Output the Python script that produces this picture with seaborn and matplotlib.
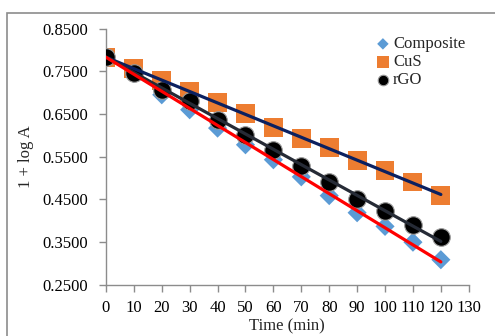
import numpy as np
import pandas as pd
import matplotlib
matplotlib.use("Agg")
import matplotlib.pyplot as plt
import matplotlib.patches as patches
import seaborn as sns

# values
time_min = [0, 10, 20, 30, 40, 50, 60, 70, 80, 90, 100, 110, 120]
composite = [0.783, 0.745, 0.695, 0.660, 0.617, 0.578, 0.543, 0.503, 0.459, 0.419, 0.387, 0.350, 0.309]
cus = [0.783, 0.756, 0.729, 0.702, 0.677, 0.651, 0.619, 0.592, 0.571, 0.541, 0.517, 0.491, 0.460]
rgo = [0.783, 0.745, 0.706, 0.681, 0.636, 0.601, 0.566, 0.529, 0.490, 0.452, 0.424, 0.391, 0.362]

y_ticks = [0.25, 0.35, 0.45, 0.55, 0.65, 0.75, 0.85]
x_ticks = list(range(0, 140, 10))

df = pd.DataFrame({"Time": time_min, "Composite": composite, "CuS": cus, "rGO": rgo})


def trend(col):
    # linear trendline anchored at the first measurement
    x = df["Time"].to_numpy(float)
    y = df[col].to_numpy(float)
    slope = np.sum(x * (y - y[0])) / np.sum(x * x)
    return y[0] + slope * x


for col in ["Composite", "CuS", "rGO"]:
    df[col + "_fit"] = trend(col)

sns.set_style("white")
plt.rcParams["font.family"] = ["Liberation Serif", "DejaVu Serif"]

fig = plt.figure(figsize=(4.95, 3.36), dpi=100)
ax = fig.add_axes([0.214, 0.152, 0.733, 0.763])

# outer chart frame
fig.patches.append(patches.Rectangle((0.014, -0.2), 1.2, 0.2 + 0.961, transform=fig.transFigure,
                                     fill=False, edgecolor="#8c8c8c", linewidth=1.2, zorder=0))

# markers
sns.scatterplot(data=df, x="Time", y="Composite", marker="D", s=95, color="#5b9bd5",
                edgecolor="none", label="Composite", ax=ax, zorder=2)
sns.scatterplot(data=df, x="Time", y="CuS", marker="s", s=185, color="#ed7d31",
                edgecolor="none", label="CuS", ax=ax, zorder=2)
sns.scatterplot(data=df, x="Time", y="rGO", marker="o", s=160, color="black",
                edgecolor="#9a9a9a", linewidth=0.8, label="rGO", ax=ax, zorder=3)

# trendlines
sns.lineplot(data=df, x="Time", y="CuS_fit", color="#0b2060", linewidth=2.3, zorder=4, ax=ax)
sns.lineplot(data=df, x="Time", y="rGO_fit", color="#262b36", linewidth=2.3, zorder=4, ax=ax)
sns.lineplot(data=df, x="Time", y="Composite_fit", color="#ff0000", linewidth=2.3, zorder=4, ax=ax)

ax.set_xlim(0, 130)
ax.set_ylim(0.25, 0.85)
ax.set_xticks(x_ticks)
ax.set_yticks(y_ticks)
ax.set_yticklabels([f"{v:.4f}" for v in y_ticks])
ax.set_xlabel("Time (min)", fontsize=12, labelpad=1.5)
ax.set_ylabel("1 + log A", fontsize=12, labelpad=6)

for side in ["top", "right"]:
    ax.spines[side].set_visible(False)
for side in ["left", "bottom"]:
    ax.spines[side].set_color("#8c8c8c")
    ax.spines[side].set_linewidth(1.0)
ax.tick_params(axis="both", direction="out", length=5, width=1, color="#8c8c8c",
               labelsize=12, labelcolor="black", left=True, bottom=True)
ax.tick_params(axis="y", pad=8)
ax.tick_params(axis="x", pad=6)

handles, labels = ax.get_legend_handles_labels()
ax.legend(handles[:3], labels[:3], loc="upper left", bbox_to_anchor=(0.745, 0.97),
          frameon=False, fontsize=12, handlelength=0.8, handletextpad=0.2,
          labelspacing=0.12, borderpad=0, borderaxespad=0, markerscale=0.6)

fig.savefig("out.png", dpi=100)
